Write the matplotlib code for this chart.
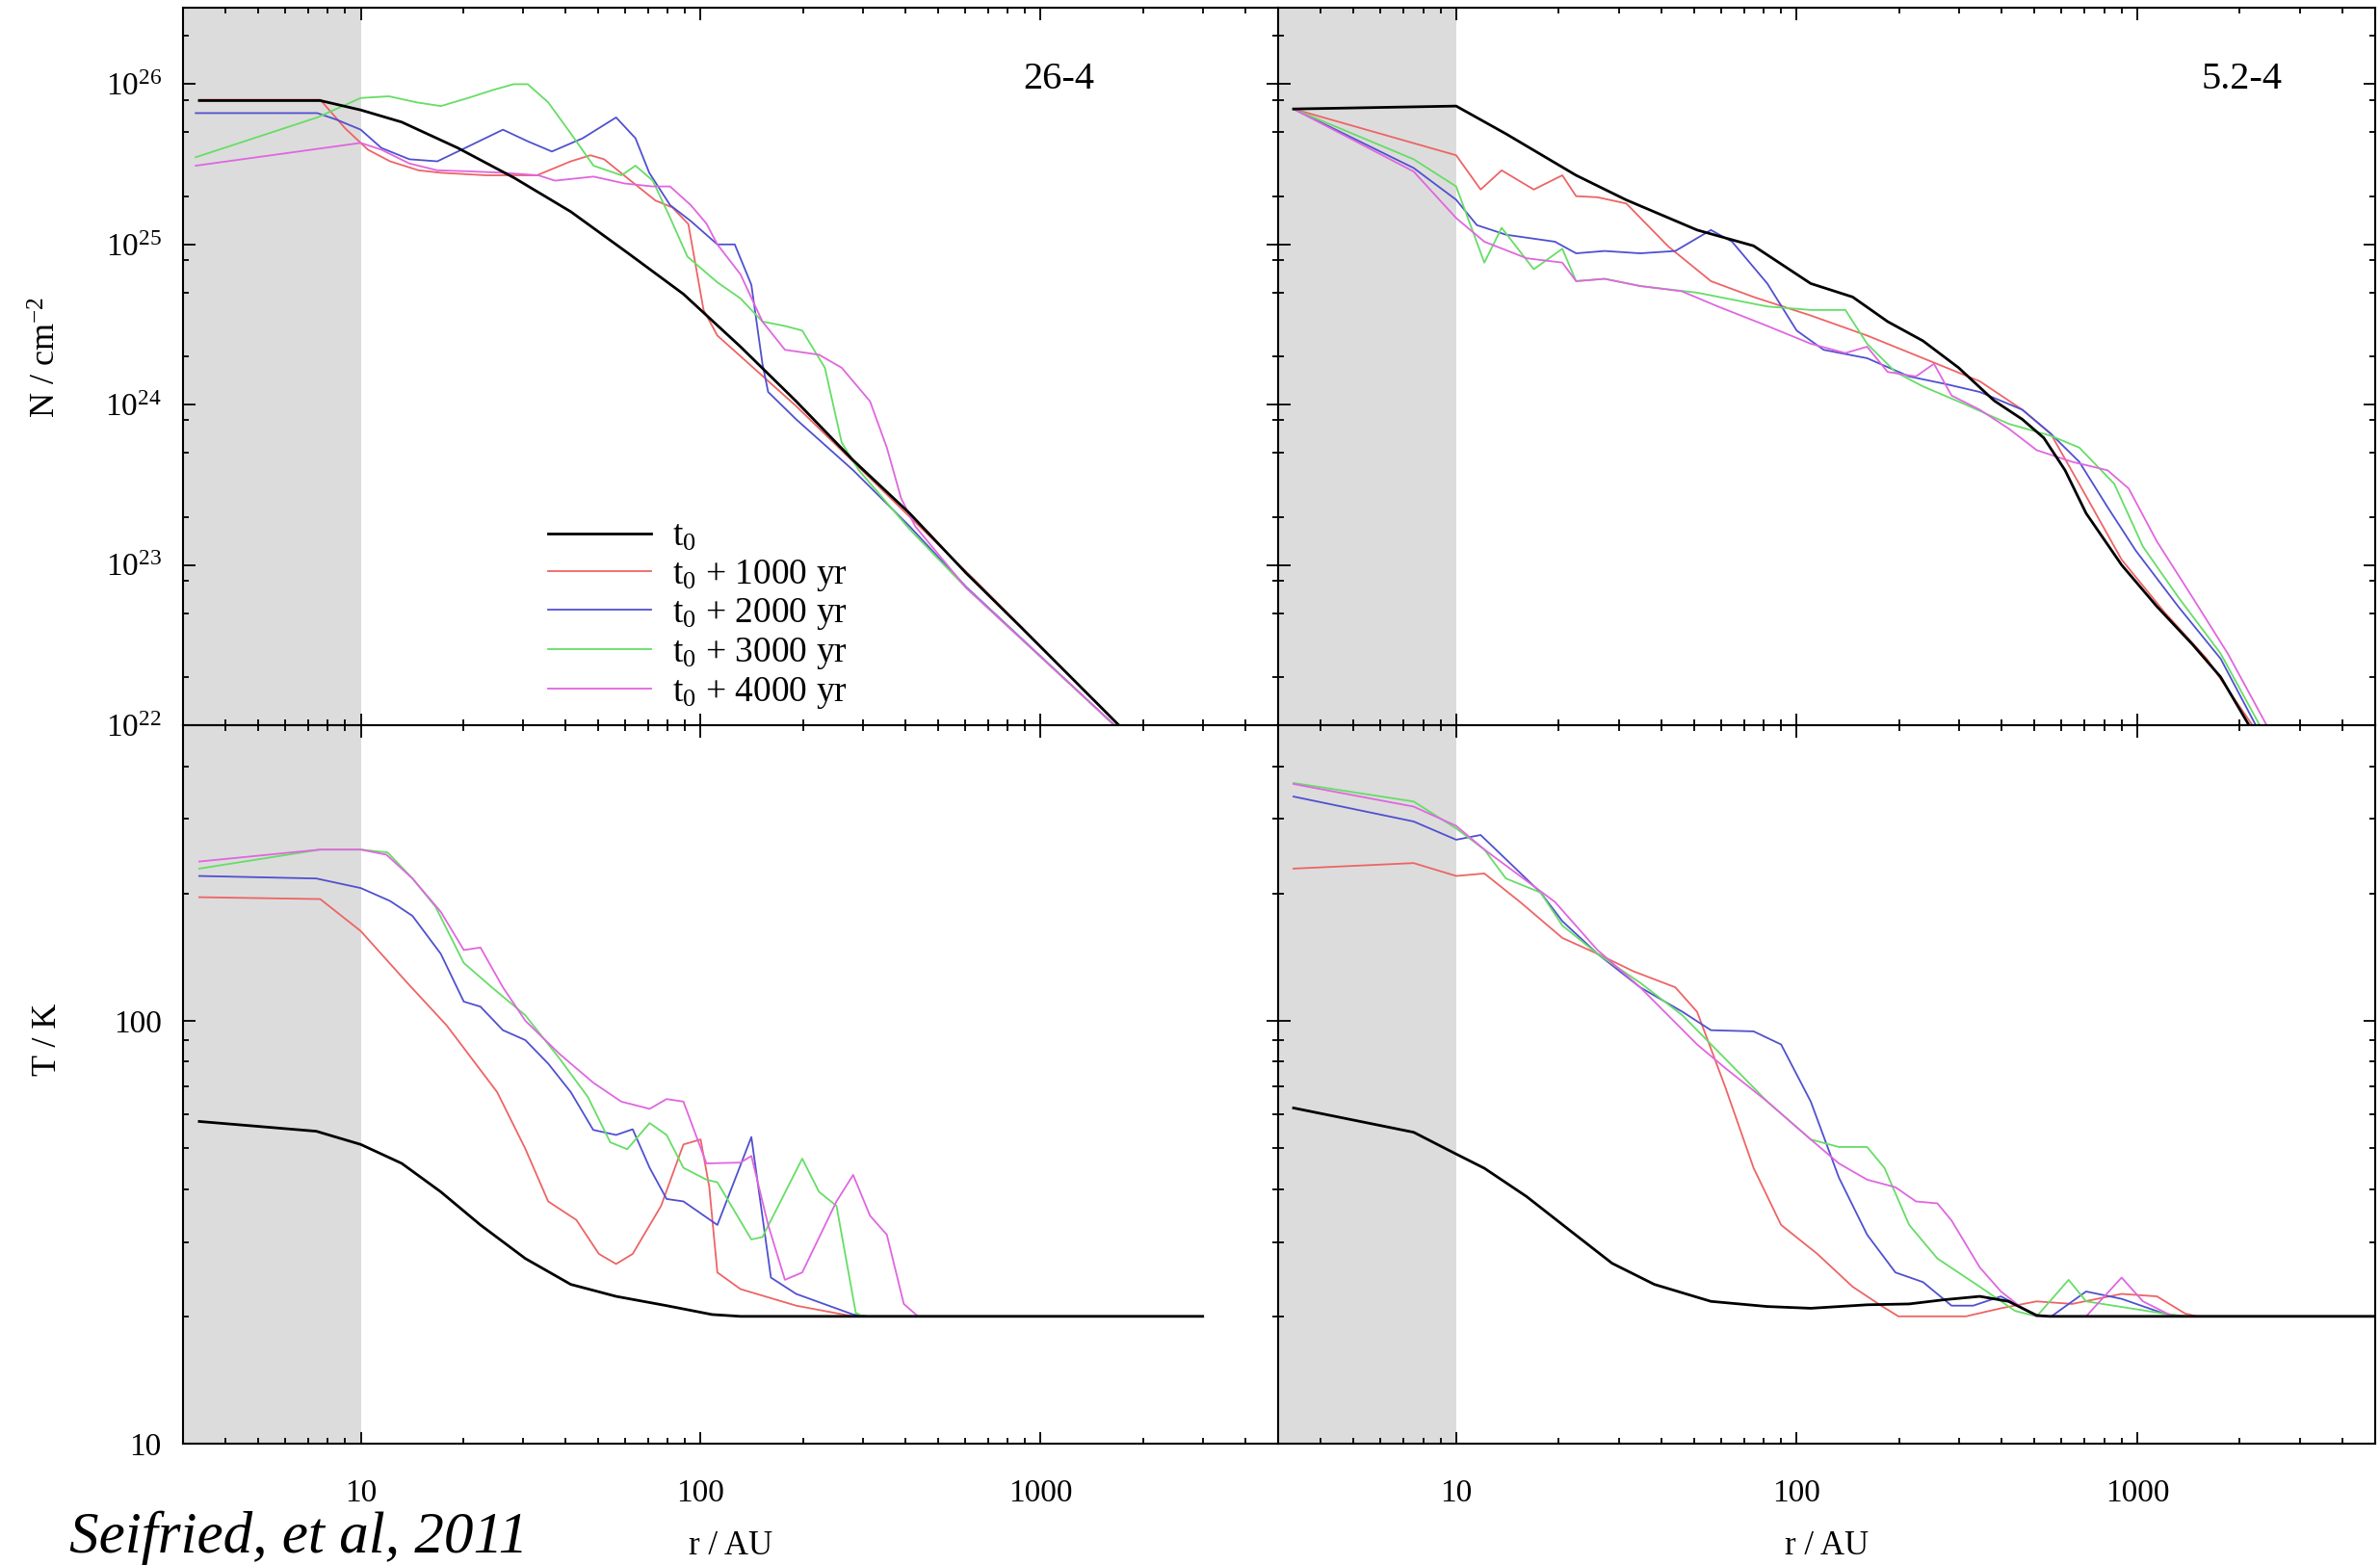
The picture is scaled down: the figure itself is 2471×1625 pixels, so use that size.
import numpy as np
import matplotlib
matplotlib.use("Agg")
import matplotlib.pyplot as plt
from matplotlib.ticker import FixedLocator, LogLocator, FuncFormatter, NullFormatter

plt.rcParams['font.family'] = ['Liberation Serif', 'DejaVu Serif']
plt.rcParams['mathtext.fontset'] = 'custom'
plt.rcParams['mathtext.rm'] = 'Liberation Serif'
plt.rcParams['mathtext.it'] = 'Liberation Serif:italic'

# ---- column density, model 26-4 ----
tl_t0_r = [3.35, 7.6, 10, 13.2, 19.3, 28.3, 41.5, 60.8, 89, 131, 191, 281, 412, 604, 885, 1700]
tl_t0_n = [7.9e25, 7.9e25, 6.9e25, 5.8e25, 4.0e25, 2.6e25, 1.6e25, 8.9e24, 4.9e24, 2.3e24, 1.05e24, 4.5e23, 2.1e23, 8.9e22, 4.0e22, 1.0e22]
tl_red_r = [3.35, 7.6, 9.0, 10.5, 12.2, 14.8, 17.2, 23.4, 33, 41.5, 47.4, 52, 60.8, 73.6, 82.6, 92, 102, 112, 191, 412, 650, 1700]
tl_red_n = [8.0e25, 8.0e25, 5.3e25, 3.9e25, 3.3e25, 2.9e25, 2.8e25, 2.7e25, 2.7e25, 3.3e25, 3.6e25, 3.4e25, 2.6e25, 1.88e25, 1.7e25, 1.34e25, 3.9e24, 2.7e24, 9.8e23, 2.0e23, 7.8e22, 1.0e22]
tl_blue_r = [3.27, 7.45, 8.5, 10, 11.5, 13.9, 16.8, 19.8, 26.2, 31, 36.5, 45, 56.4, 64.3, 70.6, 81.3, 93.5, 112, 126, 141, 152, 158, 191, 281, 412, 604, 1650]
tl_blue_n = [6.6e25, 6.6e25, 6.0e25, 5.2e25, 4.0e25, 3.4e25, 3.3e25, 3.9e25, 5.2e25, 4.4e25, 3.8e25, 4.6e25, 6.2e25, 4.6e25, 2.8e25, 1.76e25, 1.4e25, 1.0e25, 1.0e25, 5.6e24, 1.8e24, 1.2e24, 8.1e23, 3.9e23, 1.74e23, 7.3e22, 1.0e22]
tl_green_r = [3.27, 7.45, 10, 12.1, 14.6, 17.2, 20.7, 24.5, 28.2, 31, 35.6, 41, 48.4, 58.5, 64.3, 72.3, 81.3, 91.4, 112, 131, 152, 177, 199, 232, 260, 292, 412, 604, 1650]
tl_green_n = [3.5e25, 6.2e25, 8.2e25, 8.4e25, 7.7e25, 7.3e25, 8.2e25, 9.2e25, 1.0e26, 1.0e26, 7.7e25, 5.1e25, 3.1e25, 2.7e25, 3.1e25, 2.5e25, 1.47e25, 8.4e24, 5.8e24, 4.6e24, 3.3e24, 3.1e24, 2.9e24, 1.7e24, 5.8e23, 3.9e23, 1.67e23, 7.2e22, 1.0e22]
tl_mag_r = [3.27, 10, 11.5, 13.9, 16.8, 20.7, 26.2, 33.3, 37.3, 48.4, 59.8, 72.3, 81.3, 93.5, 104, 112, 131, 152, 177, 223, 260, 315, 353, 389, 428, 604, 1650]
tl_mag_n = [3.1e25, 4.3e25, 3.9e25, 3.2e25, 2.9e25, 2.86e25, 2.8e25, 2.7e25, 2.5e25, 2.65e25, 2.4e25, 2.3e25, 2.3e25, 1.76e25, 1.35e25, 1.0e25, 6.5e24, 3.3e24, 2.2e24, 2.05e24, 1.7e24, 1.05e24, 5.4e23, 2.6e23, 1.74e23, 7.2e22, 1.0e22]

# ---- column density, model 5.2-4 ----
tr_t0_r = [3.33, 10, 14, 22.5, 31.5, 51, 74.7, 110, 146, 185, 235, 299, 380, 460, 532, 614, 708, 900, 1143, 1452, 1758, 2130]
tr_t0_n = [7.0e25, 7.3e25, 4.9e25, 2.7e25, 1.9e25, 1.23e25, 9.8e24, 5.7e24, 4.7e24, 3.3e24, 2.5e24, 1.7e24, 1.06e24, 8.1e23, 6.2e23, 3.9e23, 2.1e23, 1.0e23, 5.5e22, 3.2e22, 2.0e22, 1.0e22]
tr_red_r = [3.33, 10, 11.8, 13.6, 16.9, 20.5, 22.5, 26, 31.6, 42, 56, 74.7, 110, 161, 235, 345, 460, 557, 676, 900, 1200, 1600, 2180]
tr_red_n = [7.0e25, 3.6e25, 2.2e25, 2.9e25, 2.2e25, 2.7e25, 2.0e25, 1.97e25, 1.8e25, 9.7e24, 5.9e24, 4.7e24, 3.6e24, 2.7e24, 1.95e24, 1.4e24, 9.3e23, 6.6e23, 3.2e23, 1.08e23, 5.1e22, 2.6e22, 1.0e22]
tr_blue_r = [3.33, 7.5, 10, 11.5, 14, 19.5, 22.5, 27.3, 34.7, 44, 56, 64.6, 82, 100, 120, 161, 214, 272, 345, 460, 557, 676, 818, 990, 1320, 1758, 2230]
tr_blue_n = [7.0e25, 3.0e25, 1.9e25, 1.32e25, 1.15e25, 1.04e25, 8.8e24, 9.1e24, 8.8e24, 9.1e24, 1.23e25, 1.04e25, 5.7e24, 2.9e24, 2.2e24, 1.95e24, 1.5e24, 1.35e24, 1.2e24, 9.3e23, 6.6e23, 4.4e23, 2.3e23, 1.23e23, 5.5e22, 2.6e22, 1.0e22]
tr_green_r = [3.33, 7.5, 10, 12.1, 13.6, 16.9, 20.5, 22.5, 27.3, 34.7, 51, 82, 110, 139, 161, 195, 235, 314, 419, 557, 676, 857, 1040, 1320, 1758, 2290]
tr_green_n = [7.0e25, 3.4e25, 2.3e25, 7.7e24, 1.27e25, 7.0e24, 9.4e24, 5.9e24, 6.1e24, 5.5e24, 5.0e24, 4.1e24, 3.9e24, 3.9e24, 2.4e24, 1.6e24, 1.3e24, 1.0e24, 7.6e23, 6.4e23, 5.4e23, 3.2e23, 1.3e23, 6.3e22, 2.8e22, 1.0e22]
tr_mag_r = [3.33, 7.5, 10, 12.1, 16.1, 20.5, 22.5, 27.3, 34.7, 46, 58.7, 82, 110, 139, 161, 185, 224, 253, 285, 345, 419, 507, 644, 818, 944, 1143, 1452, 1845, 2400]
tr_mag_n = [7.0e25, 2.85e25, 1.46e25, 1.04e25, 8.2e24, 7.7e24, 5.9e24, 6.1e24, 5.5e24, 5.1e24, 4.1e24, 3.1e24, 2.4e24, 2.1e24, 2.3e24, 1.6e24, 1.5e24, 1.8e24, 1.14e24, 9.3e23, 7.1e23, 5.2e23, 4.4e23, 3.9e23, 3.0e23, 1.4e23, 6.3e22, 2.8e22, 1.0e22]

# ---- temperature, model 26-4 ----
bl_t0_r = [3.35, 7.4, 10, 13.2, 17.2, 22.5, 30.5, 41.5, 56.4, 79.4, 108, 131, 3000]
bl_t0_t = [57.8, 54.8, 51, 46, 39.4, 32.9, 27.4, 23.8, 22.3, 21.2, 20.2, 20, 20]
bl_red_r = [3.35, 7.6, 10, 13.7, 17.9, 25.2, 30.5, 35.6, 43.1, 50.2, 56.4, 63.1, 76.5, 89, 100, 106, 112, 131, 191, 281, 3000]
bl_red_t = [196, 194, 163, 123, 97.5, 67.8, 49.8, 37.4, 33.8, 28.1, 26.6, 28.1, 36.5, 51, 52.4, 40.5, 25.4, 23.2, 21.2, 20, 20]
bl_blue_r = [3.35, 7.4, 10, 12.2, 14.2, 17.2, 20.1, 22.5, 26.2, 30.5, 35.6, 41.5, 48.3, 56.4, 63.1, 70.8, 79.4, 89, 112, 141, 161, 191, 281, 310, 3000]
bl_blue_t = [220, 217, 206, 192, 177, 144, 111, 108, 95, 90, 79.2, 67.8, 55.2, 53.7, 55.4, 44.9, 37.9, 37.4, 32.9, 53.1, 24.7, 22.6, 20.2, 20, 20]
bl_green_r = [3.35, 7.6, 10, 12, 14.2, 16.6, 20.1, 24.3, 30.5, 38.5, 46.6, 54.2, 60.8, 70.8, 79.4, 89, 104, 112, 141, 152, 199, 223, 251, 286, 300, 3000]
bl_green_t = [229, 254, 254, 250, 217, 186, 137, 120, 103, 81.3, 66, 51.6, 49.7, 57.3, 53.7, 44.9, 42.1, 41.5, 30.4, 30.8, 47.2, 39.4, 36.5, 20.4, 20, 20]
bl_mag_r = [3.35, 7.6, 10, 11.9, 14.2, 17.2, 20.1, 22.5, 26.2, 30.5, 38.5, 48.3, 58.4, 70.8, 79.4, 89, 104, 131, 141, 158, 177, 199, 251, 281, 315, 353, 396, 436, 3000]
bl_mag_t = [238, 254, 254, 247, 217, 181, 147, 149, 120, 100, 83.4, 71.4, 64.4, 61.9, 65.3, 64.4, 46, 46.2, 47.9, 32.9, 24.4, 25.4, 37.4, 43.2, 34.6, 31.2, 21.4, 20, 20]

# ---- temperature, model 5.2-4 ----
br_t0_r = [3.33, 7.5, 10, 12.1, 16.1, 21.5, 28.7, 38.2, 56, 82, 110, 161, 214, 272, 345, 419, 507, 550, 5000]
br_t0_t = [62.2, 54.5, 48.4, 44.8, 38.4, 32, 26.7, 23.8, 21.7, 21.1, 20.9, 21.3, 21.4, 21.9, 22.3, 21.7, 20.1, 20, 20]
br_red_r = [3.33, 7.5, 10, 12.1, 15.4, 20.5, 26, 33.1, 44, 51, 61.7, 74.7, 90, 115, 146, 177, 199, 314, 398, 507, 644, 900, 1143, 1384, 1500, 5000]
br_red_t = [229, 236, 220, 223, 191, 157, 144, 131, 120, 105, 69.7, 44.9, 32.9, 28.1, 23.5, 21.2, 20, 20, 20.9, 21.7, 21.4, 22.6, 22.3, 20.3, 20, 20]
br_blue_r = [3.33, 7.5, 10, 11.8, 14, 17.7, 20.5, 26, 34.7, 46.2, 56, 74.7, 90, 110, 133, 161, 195, 235, 285, 330, 398, 507, 560, 708, 900, 1200, 1350, 5000]
br_blue_t = [339, 296, 268, 275, 241, 201, 172, 144, 120, 105, 95, 94.4, 87.9, 64.4, 42.6, 31.2, 25.4, 24.1, 21.2, 21.2, 22.3, 20.1, 20, 22.9, 22, 20.3, 20, 20]
br_green_r = [3.33, 7.5, 10, 12.1, 14, 17.7, 20.5, 26, 34.7, 46.2, 61.7, 82, 110, 133, 161, 181, 214, 259, 345, 438, 507, 629, 708, 1200, 1400, 5000]
br_green_t = [365, 330, 285, 254, 217, 201, 168, 144, 123, 103, 81.3, 64.4, 52.4, 50.3, 50.3, 44.9, 32.9, 27.4, 23.5, 20.6, 20, 24.4, 21.7, 20.3, 20, 20]
br_mag_r = [3.33, 7.5, 10, 12.1, 15.4, 19.5, 26, 34.7, 51, 61.7, 82, 110, 133, 161, 195, 224, 259, 285, 345, 398, 460, 507, 708, 900, 1040, 1257, 1400, 5000]
br_mag_t = [363, 321, 289, 254, 220, 191, 147, 120, 87.9, 77.3, 64.4, 52.4, 46, 42.1, 40.4, 37.4, 37, 33.7, 26.1, 22.9, 20.9, 20, 20, 24.7, 21.7, 20.1, 20, 20]

labels = [r"t$_0$", r"t$_0$ + 1000 yr", r"t$_0$ + 2000 yr", r"t$_0$ + 3000 yr", r"t$_0$ + 4000 yr"]
colors = ["black", "#ee6464", "#5050d0", "#66dd66", "#e066e0"]
widths = [2.0, 1.3, 1.3, 1.3, 1.3]

panels = [
    [(tl_t0_r, tl_t0_n), (tl_red_r, tl_red_n), (tl_blue_r, tl_blue_n), (tl_green_r, tl_green_n), (tl_mag_r, tl_mag_n)],
    [(tr_t0_r, tr_t0_n), (tr_red_r, tr_red_n), (tr_blue_r, tr_blue_n), (tr_green_r, tr_green_n), (tr_mag_r, tr_mag_n)],
    [(bl_t0_r, bl_t0_t), (bl_red_r, bl_red_t), (bl_blue_r, bl_blue_t), (bl_green_r, bl_green_t), (bl_mag_r, bl_mag_t)],
    [(br_t0_r, br_t0_t), (br_red_r, br_red_t), (br_blue_r, br_blue_t), (br_green_r, br_green_t), (br_mag_r, br_mag_t)],
]

fig = plt.figure(figsize=(24.71, 16.25), dpi=100)
x_left, x_mid, x_right = 190 / 2471, 1327 / 2471, 2466 / 2471
y_top, y_mid, y_bot = 1 - 8 / 1625, 1 - 753 / 1625, 1 - 1499 / 1625
boxes = [
    [x_left, y_mid, x_mid - x_left, y_top - y_mid],
    [x_mid, y_mid, x_right - x_mid, y_top - y_mid],
    [x_left, y_bot, x_mid - x_left, y_mid - y_bot],
    [x_mid, y_bot, x_right - x_mid, y_mid - y_bot],
]

axes = []
for i, box in enumerate(boxes):
    ax = fig.add_axes(box)
    ax.set_xscale("log")
    ax.set_yscale("log")
    ax.set_xlim(3, 5000)
    ax.axvspan(3, 10, color="#dcdcdc", lw=0, zorder=0)
    for (r, v), c, w, lab in zip(panels[i], colors, widths, labels):
        ax.plot(r, v, color=c, lw=w, label=lab, zorder=3 if c == "black" else 2)
    top = i < 2
    if top:
        ax.set_ylim(1e22, 3e26)
        ax.yaxis.set_major_locator(FixedLocator([1e22, 1e23, 1e24, 1e25, 1e26]))
        ax.yaxis.set_minor_locator(LogLocator(base=10, subs=[2, 5, 8], numticks=20))
        ax.yaxis.set_major_formatter(FuncFormatter(lambda v, p: r"$10^{%d}$" % round(np.log10(v))))
    else:
        ax.set_ylim(10, 500)
        ax.yaxis.set_major_locator(FixedLocator([10, 100]))
        ax.yaxis.set_minor_locator(LogLocator(base=10, subs=np.arange(2, 10), numticks=20))
        ax.yaxis.set_major_formatter(FuncFormatter(lambda v, p: "%d" % round(v)))
    ax.yaxis.set_minor_formatter(NullFormatter())
    ax.xaxis.set_major_locator(FixedLocator([10, 100, 1000]))
    ax.xaxis.set_minor_locator(LogLocator(base=10, subs=np.arange(2, 10), numticks=20))
    ax.xaxis.set_major_formatter(FuncFormatter(lambda v, p: "%d" % round(v)))
    ax.xaxis.set_minor_formatter(NullFormatter())
    ax.tick_params(which="both", direction="in", top=True, right=True, width=1.3, colors="black")
    ax.tick_params(which="major", length=9)
    ax.tick_params(which="minor", length=4.5)
    ax.tick_params(axis="x", labelsize=24, pad=26)
    ax.tick_params(axis="y", labelsize=24, pad=16)
    if top:
        ax.tick_params(axis="x", labelbottom=False)
    if i % 2 == 1:
        ax.tick_params(axis="y", labelleft=False)
    for s in ax.spines.values():
        s.set_linewidth(1.5)
    axes.append(ax)

axes[0].text(0.832, 0.90, "26-4", transform=axes[0].transAxes, fontsize=29, ha="right", va="center")
axes[1].text(0.915, 0.90, "5.2-4", transform=axes[1].transAxes, fontsize=29, ha="right", va="center")

axes[0].legend(loc="lower left", bbox_to_anchor=(0.31, -0.015), frameon=False, fontsize=27,
               handlelength=2.85, handletextpad=0.6, labelspacing=0.1, borderpad=0.2)

fig.text(0.020, 0.772, r"N / cm$^{-2}$", rotation=90, fontsize=26, ha="center", va="center")
fig.text(0.020, 0.336, "T / K", rotation=90, fontsize=26, ha="center", va="center")
fig.text((x_left + x_mid) / 2, 0.012, "r / AU", fontsize=25, ha="center", va="center")
fig.text((x_mid + x_right) / 2, 0.012, "r / AU", fontsize=25, ha="center", va="center")
fig.text(0.029, 0.008, "Seifried, et al, 2011", fontsize=44, style="italic", ha="left", va="baseline")

fig.savefig("out.png", dpi=100)
